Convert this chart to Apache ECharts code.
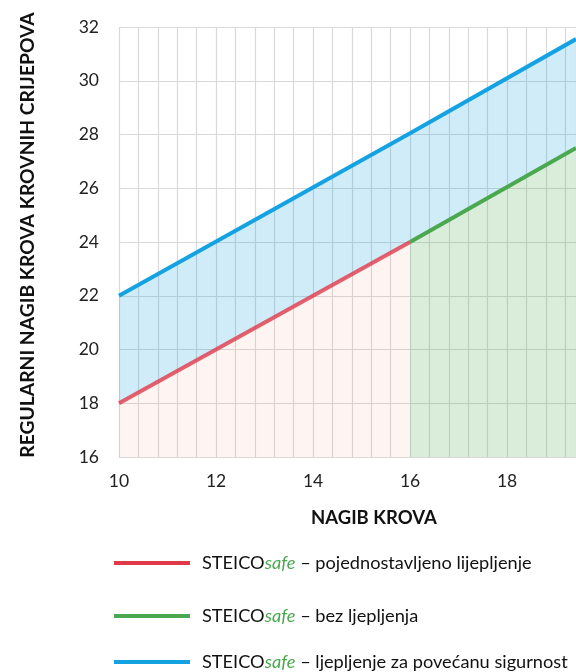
<!DOCTYPE html>
<html>
<head>
<meta charset="utf-8">
<script src="https://cdn.jsdelivr.net/npm/echarts@6/dist/echarts.min.js"></script>
<style>
  html, body { margin: 0; padding: 0; background: #fff; }
  #chart { width: 576px; height: 672px; }
</style>
</head>
<body>
<div id="chart"></div>
<script>
// nagib krova (x) -> regularni nagib krovnih crijepova (y)
let xPoints = [10, 16, 19.42];
let lowerLine = [18, 24, 27.5];       // crvena do 16, zelena od 16
let blueLine = [22, 28.05, 31.55];    // povecana sigurnost
let redIdx = [0, 1];
let greenIdx = [1, 2];

let names = {
  red: 'pojednostavljeno lijepljenje',
  green: 'bez ljepljenja',
  blue: 'ljepljenje za povećanu sigurnost'
};
let colors = {red: '#e03a4a', green: '#4aa84e', blue: '#14a2e2'};

let font = 'Lato, "Open Sans", sans-serif';

function pts(idx, vals) {
  return idx.map(function (i) { return [xPoints[i], vals[i]]; });
}

// jedna legenda po retku, razmaci kao na slici
function legendRow(name, top) {
  return {
    orient: 'vertical',
    left: 114,
    top: top,
    padding: 0,
    itemWidth: 76,
    itemHeight: 4,
    icon: 'rect',
    data: [name],
    formatter: function (n) {
      return 'STEICO{s|safe} – ' + n;
    },
    textStyle: {
      fontFamily: font,
      fontSize: 18.2,
      color: '#111',
      lineHeight: 22,
      padding: [0, 0, 0, 7],
      rich: {
        s: {fontFamily: font, fontSize: 18.2, fontStyle: 'italic', color: '#4aa84e', lineHeight: 22}
      }
    }
  };
}

let option = {
  animation: false,
  textStyle: {fontFamily: font},
  title: {
    text: 'NAGIB KROVA',
    left: 311,
    top: 509,
    padding: 0,
    textStyle: {fontFamily: font, fontSize: 18.5, fontWeight: 'bold', color: '#111'}
  },
  grid: {left: 119, right: 0, top: 27, bottom: 215, outerBoundsMode: 'none', containLabel: false},
  legend: [
    legendRow(names.red, 552),
    legendRow(names.green, 605),
    legendRow(names.blue, 651)
  ],
  xAxis: {
    type: 'value',
    min: 10,
    max: 19.42,
    interval: 0.4,
    axisLine: {show: false},
    axisTick: {show: false},
    axisLabel: {
      margin: 15,
      fontSize: 17.5,
      color: '#222',
      showMaxLabel: false,
      formatter: function (v) {
        let r = Math.round(v);
        if (Math.abs(v - r) < 1e-6 && r % 2 === 0) return r;
        return '';
      }
    },
    splitLine: {show: true, lineStyle: {color: '#d9d9d9', width: 1.2}}
  },
  yAxis: {
    type: 'value',
    min: 16,
    max: 32,
    interval: 2,
    name: 'REGULARNI NAGIB KROVA KROVNIH CRIJEPOVA',
    nameLocation: 'middle',
    nameGap: 82,
    nameTextStyle: {fontFamily: font, fontSize: 19.3, fontWeight: 'bold', color: '#111', padding: [0, 0, 0, 14]},
    axisLine: {show: false},
    axisTick: {show: false},
    axisLabel: {margin: 20, fontSize: 17.5, color: '#222'},
    splitLine: {show: true, lineStyle: {color: '#d9d9d9', width: 1.2}}
  },
  series: [
    {
      // plavi pojas izmedu donje i gornje linije
      type: 'custom',
      name: 'band',
      silent: true,
      clip: true,
      data: [[xPoints[0], blueLine[0]]],
      renderItem: function (params, api) {
        let upper = xPoints.map(function (x, i) { return api.coord([x, blueLine[i]]); });
        let lower = xPoints.map(function (x, i) { return api.coord([x, lowerLine[i]]); }).reverse();
        return {
          type: 'polygon',
          shape: {points: upper.concat(lower)},
          style: {fill: 'rgba(20,162,226,0.2)'}
        };
      }
    },
    {
      name: names.red,
      type: 'line',
      data: pts(redIdx, lowerLine),
      showSymbol: false,
      itemStyle: {color: colors.red},
      lineStyle: {color: colors.red, width: 4, opacity: 0.8},
      areaStyle: {color: 'rgba(240,140,100,0.12)', origin: 'start'}
    },
    {
      name: names.green,
      type: 'line',
      data: pts(greenIdx, lowerLine),
      showSymbol: false,
      itemStyle: {color: colors.green},
      lineStyle: {color: colors.green, width: 4},
      areaStyle: {color: 'rgba(76,170,80,0.3)', origin: 'start'}
    },
    {
      name: names.blue,
      type: 'line',
      data: xPoints.map(function (x, i) { return [x, blueLine[i]]; }),
      showSymbol: false,
      itemStyle: {color: colors.blue},
      lineStyle: {color: colors.blue, width: 4}
    }
  ]
};

let myChart = echarts.init(document.getElementById('chart'));
myChart.setOption(option);
</script>
</body>
</html>
